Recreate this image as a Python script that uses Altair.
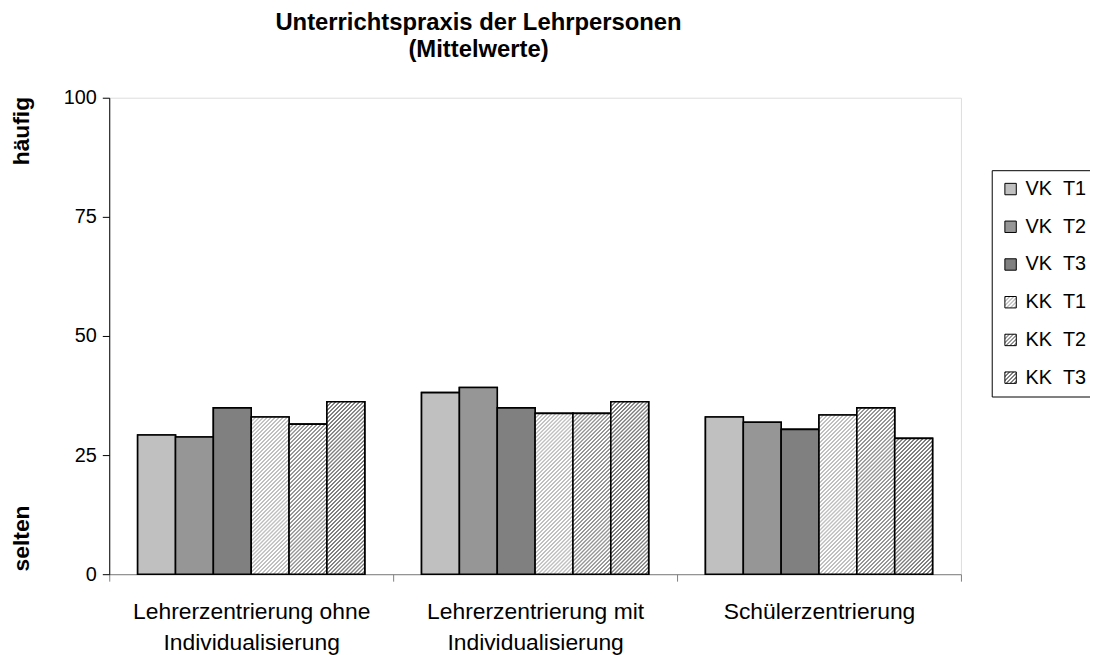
import json
import altair as alt

# ---------------- data ----------------
categories = [
    "Lehrerzentrierung ohne\nIndividualisierung",
    "Lehrerzentrierung mit\nIndividualisierung",
    "Schülerzentrierung",
]
series = ["VK T1", "VK T2", "VK T3", "KK T1", "KK T2", "KK T3"]
values_vk_t1 = [29.2, 38.1, 33.0]
values_vk_t2 = [28.8, 39.2, 31.9]
values_vk_t3 = [34.9, 34.9, 30.4]
values_kk_t1 = [33.0, 33.75, 33.4]
values_kk_t2 = [31.5, 33.75, 34.9]
values_kk_t3 = [36.2, 36.2, 28.5]
y_ticks = [0, 25, 50, 75, 100]
end_labels = ["häufig", "selten"]
end_label_pos = [93, 7.5]
title_lines = ["Unterrichtspraxis der Lehrpersonen", "(Mittelwerte)"]

# ---------------- style ----------------
series_colors = ["#c0c0c0", "#969696", "#808080", "#c0c0c0", "#969696", "#808080"]
series_hatched = [False, False, False, True, True, True]
FONT = "Liberation Sans"
PLOT_W, PLOT_H = 858, 480
X_PAD_OUTER = 0.75
BAR_W = PLOT_W / len(categories) / (len(series) + 2 * X_PAD_OUTER)
PX_PER_UNIT = PLOT_H / 100.0
STRIPE_PERIOD = 4.0  # horizontal period of the diagonal stripes, px


def stripe_gradient(color, w, h):
    """Diagonal '/' stripes inside a w x h box (objectBoundingBox gradient)."""
    r = h / w
    span = w * (1 + r * r)
    dt = STRIPE_PERIOD / span
    tmax = (w + h) / span
    stops = []
    k = 0
    while k * dt <= min(1.0, tmax + dt):
        for frac, c in ((0.0, color), (0.4, color), (0.5, "#ffffff"), (0.9, "#ffffff")):
            off = (k + frac) * dt
            if off <= 1.0:
                stops.append({"offset": round(off, 6), "color": c})
        k += 1
    return {"gradient": "linear", "x1": 0, "y1": 0, "x2": 1, "y2": round(r, 6), "stops": stops}


all_values = [values_vk_t1, values_vk_t2, values_vk_t3, values_kk_t1, values_kk_t2, values_kk_t3]
records = []
for i, cat in enumerate(categories):
    for j, s in enumerate(series):
        v = all_values[j][i]
        if series_hatched[j]:
            fill = stripe_gradient(series_colors[j], BAR_W, v * PX_PER_UNIT)
        else:
            fill = series_colors[j]
        records.append({"cat": cat, "series": s, "value": v, "fillv": fill})

# legend swatches
SW = 11.5
legend_range = []
for j in range(len(series)):
    if series_hatched[j]:
        legend_range.append(alt.ExprRef(expr=json.dumps(stripe_gradient(series_colors[j], SW, SW))))
    else:
        legend_range.append(series_colors[j])

base = alt.Chart(alt.Data(values=records))

x_enc = alt.X(
    "cat:N",
    sort=categories,
    scale=alt.Scale(paddingInner=0, paddingOuter=0),
    axis=alt.Axis(
        title=None,
        labelAngle=0,
        labelExpr="split(datum.label, '\\n')",
        labelFont=FONT,
        labelFontSize=23,
        labelLineHeight=31,
        labelColor="black",
        labelPadding=20,
        labelLimit=0,
        tickBand="extent",
        tickSize=7,
        tickColor="#808080",
        domainColor="#808080",
        grid=False,
    ),
)
xoff_enc = alt.XOffset("series:N", sort=series, scale=alt.Scale(paddingInner=0, paddingOuter=X_PAD_OUTER))
y_enc = alt.Y(
    "value:Q",
    scale=alt.Scale(domain=[0, 100], nice=False),
    axis=alt.Axis(
        title=None,
        values=y_ticks,
        labelFont=FONT,
        labelFontSize=20,
        labelColor="black",
        labelPadding=6,
        tickSize=7,
        tickColor="black",
        domainColor="black",
        grid=False,
    ),
)

NB = "\u00a0"
legend_bars = base.mark_bar(stroke="black", strokeWidth=1.6, aria=False).encode(
    x=x_enc,
    xOffset=xoff_enc,
    y=y_enc,
    color=alt.Color(
        "series:N",
        sort=series,
        scale=alt.Scale(domain=series, range=legend_range),
        legend=alt.Legend(
            title=None,
            orient="none",
            legendX=889,
            legendY=73,
            padding=9,
            strokeColor="black",
            fillColor="white",
            symbolType="square",
            symbolSize=SW * SW,
            symbolStrokeColor="black",
            symbolStrokeWidth=1,
            labelFont=FONT,
            labelFontSize=20,
            labelColor="black",
            labelOffset=5,
            rowPadding=18,
            labelExpr="replace(datum.label, ' ', '" + NB * 2 + "') + '" + NB * 10 + "'",
        ),
    ),
)

pattern_bars = base.mark_bar(stroke="black", strokeWidth=1.6, aria=False).encode(
    x=x_enc,
    xOffset=xoff_enc,
    y=alt.Y("value:Q"),
    fill=alt.Fill("fillv:N", scale=None),
)

end_text = alt.Chart(
    alt.Data(values=[{"t": t, "pos": p} for t, p in zip(end_labels, end_label_pos)])
).mark_text(
    angle=270, font=FONT, fontSize=23, fontWeight="bold", color="black",
    align="center", baseline="middle", aria=False,
).encode(
    x=alt.value(-88),
    y=alt.Y("pos:Q"),
    text="t:N",
)

chart = (
    alt.layer(legend_bars, pattern_bars, end_text)
    .resolve_scale(fill="independent")
    .properties(
        width=PLOT_W,
        height=PLOT_H,
        autosize=alt.AutoSizeParams(type="none"),
        padding={"left": 102, "top": 88, "right": 130, "bottom": 79},
        title=alt.TitleParams(
            text=title_lines,
            font=FONT,
            fontSize=24,
            fontWeight="bold",
            color="black",
            anchor="middle",
            frame="group",
            dx=-57,
            offset=26,
            lineHeight=27,
        ),
    )
    .configure_view(stroke=None)
    .configure(background="white")
)

chart.save("out.html", embed_options={"renderer": "svg", "actions": False})
